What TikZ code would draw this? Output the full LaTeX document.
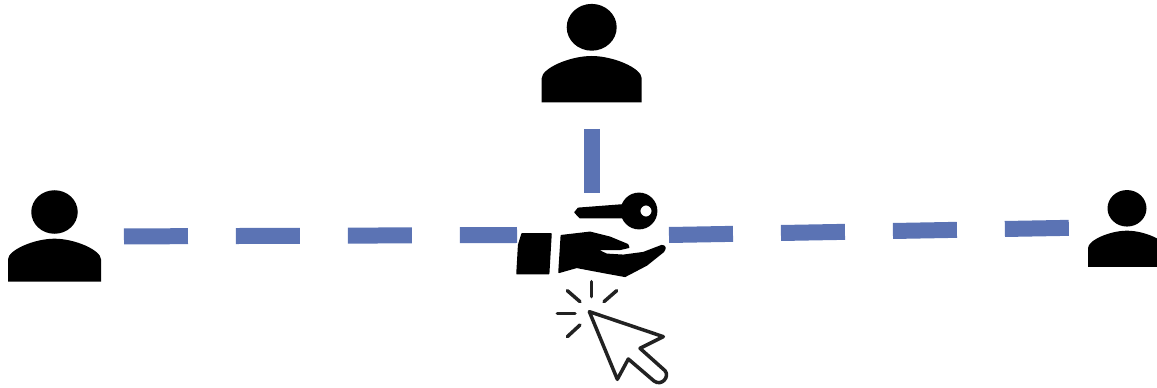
\documentclass[tikz,border=0pt]{standalone}
\definecolor{linkblue}{RGB}{91,115,180}
\definecolor{cursorink}{RGB}{34,34,34}
\tikzset{
  spot/.style={inner sep=0pt,outer sep=0pt},
  link/.style={linkblue,line width=.32cm,dash pattern=on 1.28cm off .96cm},
  ray/.style={cursorink,line width=.07cm,line cap=round},
  solid black/.style={fill=black,draw=black,line width=.03cm,line join=round},
  usericon/.pic={
    \fill[black] (0,0) ellipse [x radius=25,y radius=23.4];
    \fill[black] (-50,75) -- (-50,51) .. controls (-50,41) and (-22,28.7) .. (0,28.7)
      .. controls (22,28.7) and (50,41) .. (50,51) -- (50,75) -- cycle;
  }
}
\begin{document}
\begin{tikzpicture}[x=0.02cm,y=-0.02cm]
\useasboundingbox (0,0) rectangle (1157,388);
% people
\pic at (591.7,27.3) {usericon};
\pic[scale=.93] at (54.5,212) {usericon};
\pic[scale=.78] at (1127,208.3) {usericon};
\node[spot,minimum width=1.98cm,minimum height=2cm] (usertop) at (591.7,52) {};
\node[spot,minimum width=1.86cm,minimum height=1.82cm] (userleft) at (54.5,236.5) {};
\node[spot,minimum width=1.56cm,minimum height=1.58cm] (userright) at (1127,227.5) {};
\node[spot,minimum width=3.04cm,minimum height=1.68cm] (hand) at (593,235) {};
% dashed links
\draw[link,shorten <=.46cm] (userleft.east) -- (hand.west);
\draw[link,shorten >=.36cm] (hand.east) -- (userright.west);
\draw[link,shorten <=.54cm] (usertop.south) -- (usertop.south |- hand.north);
% hand and key: numbers read off a 3x crop
\begin{scope}[shift={(510,185)},x=0.00667cm,y=-0.00667cm]
\path[solid black] (36,147) -- (123,147) -- (116,266) -- (21,266) -- (26,180) -- cycle;
\path[solid black] (154,152) -- (240,142) -- (300,157) -- (353,179) -- (356,187) -- (330,193) -- (258,193)
  -- (290,208) -- (340,211) -- (400,203) -- (455,182) .. controls (466,182) and (468,190) .. (460,200)
  -- (410,240) -- (345,274) -- (290,264) -- (200,247) -- (147,262) -- cycle;
\path[solid black,even odd rule] (387,78) circle (53) (408,78) circle (19);
\path[solid black] (335,60) -- (205,70) -- (195,82) -- (210,98) -- (335,98) -- cycle;
\end{scope}
% cursor
\begin{scope}[shift={(500,180)},x=0.00667cm,y=-0.00667cm]
\draw[ray] (275,305) -- (275,350);
\draw[ray] (202,332) -- (240,365);
\draw[ray] (350,332) -- (312,365);
\draw[ray] (172,400) -- (225,400);
\draw[ray] (240,435) -- (202,470);
\draw[ray,line join=round] (268,395) -- (490,470) -- (420,505) -- (495,572)
  .. controls (510,590) and (485,620) .. (462,603) -- (385,537) -- (352,598) -- cycle;
\end{scope}
\end{tikzpicture}
\end{document}
